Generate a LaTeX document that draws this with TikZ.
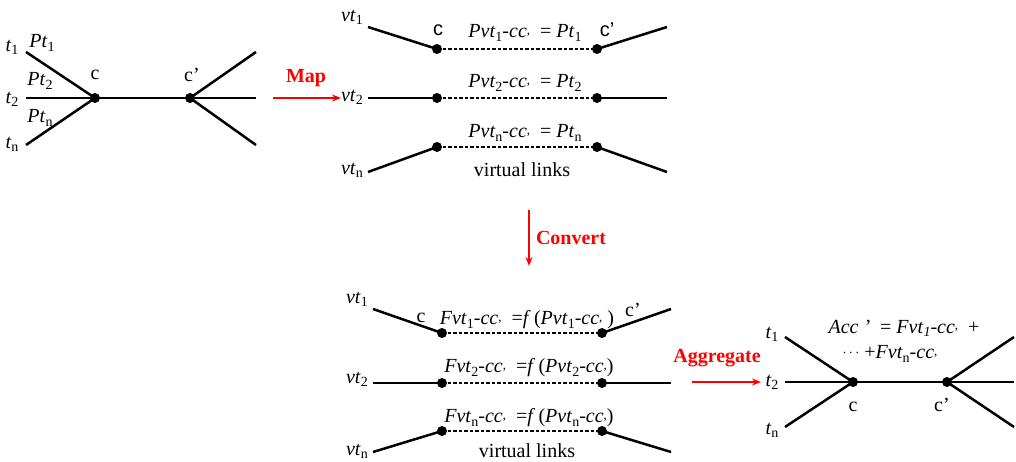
\documentclass[tikz,border=0pt]{standalone}
\usepackage{fontspec}
\setmainfont{Liberation Serif}
\newfontfamily\arialf{Liberation Sans}
\usetikzlibrary{arrows.meta}
\newcommand\cmk{\raisebox{0.35ex}{\fontsize{13}{13}\selectfont,}}
\newcommand\sbs[1]{\raisebox{-0.35ex}{\fontsize{14}{14}\selectfont #1}}
\newcommand\itx[1]{\textit{#1}}
\begin{document}
\begin{tikzpicture}[x=1pt,y=-1pt,
  font=\fontsize{20}{23}\selectfont,
  ln/.style={line width=2.5pt},
  vl/.style={line width=1.7pt, dash pattern=on 3.5pt off 2pt},
  dot/.style={circle, fill=black, inner sep=0pt, minimum size=10pt},
  lbl/.style={inner sep=0pt},
  redarr/.style={red, line width=1.7pt, -{Stealth[length=9pt,width=7pt]}},
  redlbl/.style={red, font=\fontsize{20}{23}\selectfont\bfseries, inner sep=0pt},
  sfl/.style={lbl, font=\fontsize{20}{23}\selectfont\arialf}]
\useasboundingbox (0,0) rectangle (1016,462);

% ---------- Panel 1 ----------
\node[dot] (a1) at (95,98) {};
\node[dot] (a2) at (190,98) {};
\coordinate (a1l1) at (26,52);
\coordinate (a1l2) at (26,98);
\coordinate (a1l3) at (26,145);
\coordinate (a2r1) at (256,52);
\coordinate (a2r2) at (256,98);
\coordinate (a2r3) at (256,145);
\draw[ln] (a1l1) -- (a1.center);
\draw[ln] (a1l2) -- (a1.center);
\draw[ln] (a1l3) -- (a1.center);
\draw[ln] (a1.center) -- (a2.center);
\draw[ln] (a2.center) -- (a2r1);
\draw[ln] (a2.center) -- (a2r2);
\draw[ln] (a2.center) -- (a2r3);
\node[lbl] (at1) at (12,47) {\itx{t}\sbs{1}};
\node[lbl] (at2) at (12,99) {\itx{t}\sbs{2}};
\node[lbl] (atn) at (12,144) {\itx{t}\sbs{n}};
\node[lbl] (ap1) at (42,43) {\itx{Pt}\sbs{1}};
\node[lbl] (ap2) at (40,81) {\itx{Pt}\sbs{2}};
\node[lbl] (apn) at (40,118) {\itx{Pt}\sbs{n}};
\node[lbl] (ac) at (95,75) {c};
\node[lbl] (acp) at (192,75) {c’};

% ---------- Map arrow ----------
\coordinate (m0) at (273,98);
\coordinate (m1) at (341,98);
\draw[redarr] (m0) -- (m1);
\node[redlbl] (map) at (306,78) {Map};

% ---------- Panel 2 ----------
\foreach \n/\y in {1/49,2/98,3/147}{
  \node[dot] (b\n c) at (437,\y) {};
  \node[dot] (b\n d) at (597,\y) {};
  \draw[vl] (b\n c.center) -- (b\n d.center);
}
\coordinate (b1l) at (368,27);  \coordinate (b1r) at (667,27);
\coordinate (b2l) at (368,98);  \coordinate (b2r) at (667,98);
\coordinate (b3l) at (368,172); \coordinate (b3r) at (667,172);
\draw[ln] (b1l) -- (b1c.center); \draw[ln] (b1d.center) -- (b1r);
\draw[ln] (b2l) -- (b2c.center); \draw[ln] (b2d.center) -- (b2r);
\draw[ln] (b3l) -- (b3c.center); \draw[ln] (b3d.center) -- (b3r);
\node[lbl] (bv1) at (352,17) {\itx{vt}\sbs{1}};
\node[lbl] (bv2) at (352,97) {\itx{vt}\sbs{2}};
\node[lbl] (bvn) at (352,170) {\itx{vt}\sbs{n}};
\node[sfl] (bc) at (438,30) {c};
\node[sfl] (bcp) at (607,30) {c’};
\node[lbl] (bf1) at (525,33) {\itx{Pvt}\sbs{1}\itx{-cc}\cmk\ \ = \itx{Pt}\sbs{1}};
\node[lbl] (bf2) at (525,83) {\itx{Pvt}\sbs{2}\itx{-cc}\cmk\ \ = \itx{Pt}\sbs{2}};
\node[lbl] (bfn) at (525,133) {\itx{Pvt}\sbs{n}\itx{-cc}\cmk\ \ = \itx{Pt}\sbs{n}};
\node[lbl] (bvirt) at (522,170) {virtual links};

% ---------- Convert arrow ----------
\coordinate (k0) at (529,210);
\coordinate (k1) at (529,266);
\draw[redarr] (k0) -- (k1);
\node[redlbl] (conv) at (571,238) {Convert};

% ---------- Panel 3 ----------
\foreach \n/\y in {1/333,2/383,3/431}{
  \node[dot] (d\n c) at (442,\y) {};
  \node[dot] (d\n d) at (602,\y) {};
  \draw[vl] (d\n c.center) -- (d\n d.center);
}
\coordinate (d1l) at (373,309); \coordinate (d1r) at (671,309);
\coordinate (d2l) at (373,383); \coordinate (d2r) at (671,383);
\coordinate (d3l) at (373,452); \coordinate (d3r) at (671,452);
\draw[ln] (d1l) -- (d1c.center); \draw[ln] (d1d.center) -- (d1r);
\draw[ln] (d2l) -- (d2c.center); \draw[ln] (d2d.center) -- (d2r);
\draw[ln] (d3l) -- (d3c.center); \draw[ln] (d3d.center) -- (d3r);
\node[lbl] (dv1) at (357,299) {\itx{vt}\sbs{1}};
\node[lbl] (dv2) at (357,379) {\itx{vt}\sbs{2}};
\node[lbl] (dvn) at (357,451) {\itx{vt}\sbs{n}};
\node[lbl] (dc) at (421,318) {c};
\node[lbl] (dcp) at (633,310) {c’};
\node[lbl] (df1) at (527,320) {\itx{Fvt}\sbs{1}\itx{-cc}\cmk\ \ =\itx{f}\,(\itx{Pvt}\sbs{1}\itx{-cc}\cmk\ )};
\node[lbl] (df2) at (529,368) {\itx{Fvt}\sbs{2}\itx{-cc}\cmk\ \ =\itx{f}\,(\itx{Pvt}\sbs{2}\itx{-cc}\cmk)};
\node[lbl] (dfn) at (529,418) {\itx{Fvt}\sbs{n}\itx{-cc}\cmk\ \ =\itx{f}\,(\itx{Pvt}\sbs{n}\itx{-cc}\cmk)};
\node[lbl] (dvirt) at (527,451) {virtual links};

% ---------- Aggregate arrow ----------
\coordinate (g0) at (692,382);
\coordinate (g1) at (761,382);
\draw[redarr] (g0) -- (g1);
\node[redlbl] (aggr) at (717,358) {Aggregate};

% ---------- Panel 4 ----------
\node[dot] (e1) at (853,382) {};
\node[dot] (e2) at (947,382) {};
\coordinate (e1l1) at (785,337);
\coordinate (e1l2) at (785,382);
\coordinate (e1l3) at (785,427);
\coordinate (e2r1) at (1014,337);
\coordinate (e2r2) at (1014,382);
\coordinate (e2r3) at (1014,427);
\draw[ln] (e1l1) -- (e1.center);
\draw[ln] (e1l2) -- (e1.center);
\draw[ln] (e1l3) -- (e1.center);
\draw[ln] (e1.center) -- (e2.center);
\draw[ln] (e2.center) -- (e2r1);
\draw[ln] (e2.center) -- (e2r2);
\draw[ln] (e2.center) -- (e2r3);
\node[lbl] (et1) at (772,334) {\itx{t}\sbs{1}};
\node[lbl] (et2) at (772,382) {\itx{t}\sbs{2}};
\node[lbl] (etn) at (772,430) {\itx{t}\sbs{n}};
\node[lbl] (ec) at (853,407) {c};
\node[lbl] (ecp) at (942,405) {c’};
\node[lbl] (eacc1) at (904,328) {\itx{Acc ’}\ \ = \itx{Fvt}\sbs{\itx{1}}\itx{-cc}\cmk\ \ +};
\node[lbl] (eacc2) at (890,354) {\raisebox{0.3ex}{\fontsize{14}{14}\selectfont$\cdots$}\ +\itx{Fvt}\sbs{n}\itx{-cc}\cmk};
\end{tikzpicture}
\end{document}
